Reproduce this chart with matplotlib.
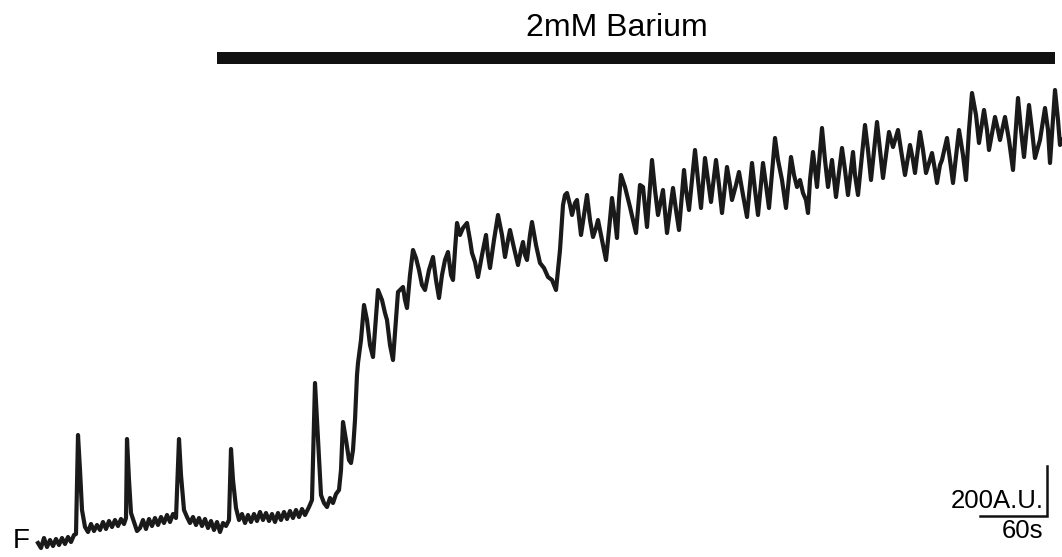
import numpy as np
import matplotlib
matplotlib.use('Agg')
import matplotlib.pyplot as plt

plt.rcParams['font.family'] = ['Liberation Sans', 'DejaVu Sans']

# imaging frames (0.9 s per frame) and fluorescence (A.U.)
frame_interval = 0.9

# control period, 4 spontaneous transients
frames_ctrl = [0, 3, 6, 9, 12, 15, 18, 21, 24, 27, 30, 33, 36, 38,
               40, 42, 44, 47, 50, 53, 56, 59, 62, 65, 68, 71, 74, 77, 80, 83, 86, 88,
               89, 91, 93, 96, 99, 102, 105, 108, 111, 114, 117, 120, 123, 126, 129, 132, 135, 138,
               141, 143, 146, 149, 152, 155, 158, 161, 164, 167, 170, 173, 176, 179, 182, 185, 188, 191,
               193, 195, 198, 201, 204, 207, 210, 213, 216, 219, 222, 225, 228, 231, 234, 237, 240, 243,
               246, 249, 252, 255, 258, 261, 264, 267, 271, 274,
               277, 280, 283, 286, 289, 292, 295, 298, 301, 303]
F_ctrl = [8, -12, 28, -8, 20, -4, 24, 0, 28, 4, 32, 12, 40, 44,
          440, 300, 140, 72, 52, 84, 56, 80, 60, 92, 64, 96, 72, 100, 76, 104, 84, 108,
          424, 260, 128, 92, 56, 68, 100, 64, 104, 76, 108, 80, 112, 88, 120, 92, 124, 108,
          424, 280, 140, 112, 88, 112, 80, 108, 76, 104, 68, 96, 60, 92, 52, 88, 76, 100,
          384, 260, 148, 100, 124, 88, 120, 92, 124, 96, 132, 100, 128, 96, 124, 92, 128, 100,
          132, 104, 136, 108, 140, 112, 144, 120, 152, 180,
          648, 420, 200, 168, 152, 188, 168, 204, 220, 300]

# rise and plateau
frames_rise = [305, 308, 311, 313, 315, 317, 319, 320, 323, 326,
               329, 332, 335, 337, 340, 344, 347, 349, 352, 355,
               358, 360, 365, 367, 369, 372, 375, 378, 381, 384,
               387, 391, 395, 398, 401, 404, 407, 410, 413, 415,
               417, 419, 422, 425, 429, 432, 434, 437, 440, 444,
               448, 450, 452, 456, 460, 464, 467, 470, 472, 476,
               480, 483, 485, 487, 489, 492, 494, 498, 502, 506,
               510, 514, 518, 520, 522, 525, 527, 529, 532, 534,
               537, 539, 543, 546, 549, 552, 555, 558, 560, 564,
               568, 571, 574, 577, 579, 581, 583, 587, 592, 598,
               602, 605, 609, 614, 617, 620, 625, 629, 632, 635,
               638, 641, 646, 648, 651, 654, 657, 660, 663, 667,
               670, 673, 678, 681, 684, 689, 692, 694, 698, 701,
               705, 709, 714, 717, 720, 725, 728, 731, 737, 740,
               744, 748, 753, 756, 759, 762, 765, 768, 770, 772,
               775, 779, 784, 787, 790, 794, 798, 804, 807, 810,
               815, 817, 820, 827, 830, 833, 839, 842, 845, 851,
               855, 860, 863, 867, 872, 875, 877, 882, 885, 888,
               894, 897, 899, 902, 904, 909, 912, 915, 921, 925,
               928, 931, 934, 938, 941, 946, 949, 951, 957, 960,
               962, 967, 971, 975, 980, 983, 986, 991, 994, 997,
               1002, 1007, 1010, 1012, 1017, 1020, 1022, 1024]
F_rise = [492, 420, 340, 328, 380, 500, 680, 728, 820, 960,
          900, 800, 752, 860, 1020, 980, 928, 900, 800, 740,
          900, 1012, 1032, 980, 948, 1080, 1180, 1148, 1100, 1040,
          1020, 1100, 1152, 1060, 988, 1080, 1140, 1172, 1080, 1060,
          1180, 1288, 1240, 1268, 1288, 1220, 1168, 1132, 1072, 1160,
          1240, 1160, 1108, 1220, 1320, 1240, 1152, 1220, 1260, 1188,
          1120, 1180, 1212, 1160, 1140, 1240, 1292, 1200, 1128, 1108,
          1072, 1060, 1020, 1100, 1180, 1360, 1400, 1408, 1360, 1320,
          1368, 1380, 1240, 1320, 1400, 1300, 1232, 1268, 1300, 1220,
          1140, 1260, 1388, 1300, 1228, 1380, 1480, 1432, 1352, 1248,
          1440, 1432, 1272, 1540, 1420, 1320, 1420, 1248, 1340, 1428,
          1340, 1260, 1500, 1420, 1340, 1460, 1580, 1460, 1348, 1548,
          1460, 1372, 1540, 1440, 1328, 1512, 1440, 1380, 1440, 1492,
          1400, 1312, 1528, 1420, 1320, 1528, 1440, 1348, 1628, 1540,
          1460, 1348, 1552, 1480, 1432, 1460, 1408, 1380, 1328, 1460,
          1572, 1432, 1668, 1540, 1432, 1540, 1392, 1588, 1500, 1400,
          1572, 1480, 1400, 1680, 1580, 1460, 1692, 1580, 1468, 1652,
          1592, 1660, 1580, 1480, 1600, 1540, 1488, 1652, 1580, 1488,
          1568, 1500, 1448, 1520, 1540, 1628, 1540, 1448, 1660, 1560,
          1460, 1660, 1808, 1720, 1608, 1740, 1660, 1580, 1712, 1660,
          1620, 1712, 1620, 1500, 1788, 1660, 1552, 1760, 1660, 1548,
          1620, 1748, 1660, 1528, 1820, 1700, 1600, 1620]

barium_on = 161.1   # s
barium_off = 915.3  # s
barium_label = '2mM Barium'

scale_t = 60    # s
scale_F = 200   # A.U.

t = np.array(frames_ctrl + frames_rise) * frame_interval
F = np.array(F_ctrl + F_rise)

fig = plt.figure(figsize=(10.62, 5.57), dpi=100)
ax = fig.add_axes([0, 0, 1, 1])
ax.set_xlim(-34.2, 921.6)
ax.set_ylim(-48, 2180)
ax.axis('off')

ax.plot(t, F, color='#1a1a1a', lw=3.0, solid_joinstyle='round')

# barium application bar
ax.add_patch(plt.Rectangle((barium_on, 1924), barium_off - barium_on, 48,
                           color='#111111', lw=0))
ax.text(521, 2066, barium_label, ha='center', va='center', fontsize=23)

# scale bars
sx, sy = 908.1, 116
ax.plot([sx - scale_t, sx, sx], [sy, sy, sy + scale_F], color='#111111', lw=1.8,
        solid_joinstyle='miter')
ax.text(sx - 3, sy + 30, f'{scale_F}A.U.', ha='right', va='baseline', fontsize=18.5)
ax.text(sx - 3, sy - 12, f'{scale_t}s', ha='right', va='top', fontsize=18.5)

ax.text(-15.3, 14, 'F', ha='center', va='center', fontsize=20)

fig.savefig('out.png', dpi=100)
